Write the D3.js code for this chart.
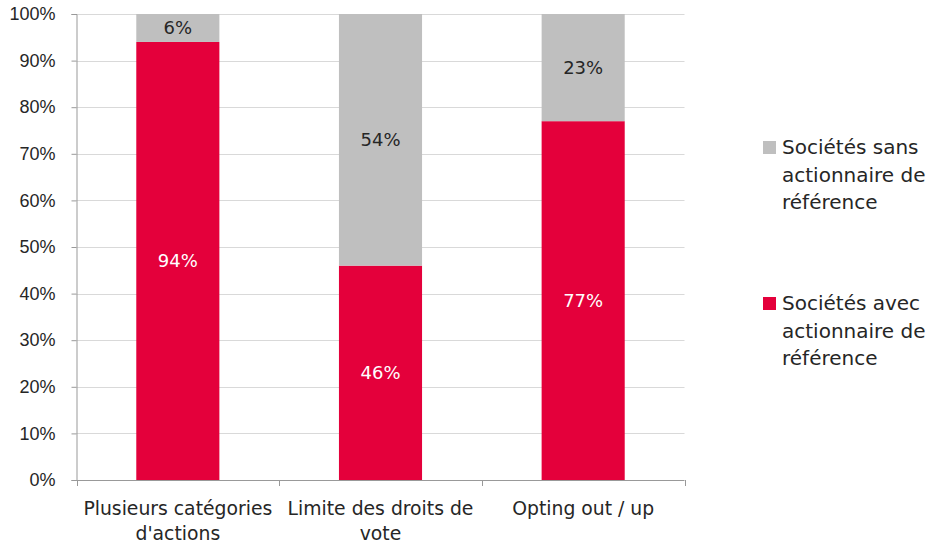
<!DOCTYPE html>
<html>
<head>
<meta charset="utf-8">
<script src="https://cdn.jsdelivr.net/npm/d3@7"></script>
<style>
  html, body { margin: 0; padding: 0; background: #fff; }
  svg { display: block; font-family: "DejaVu Sans", "Liberation Sans", Arial, sans-serif; font-weight: 400; }
</style>
</head>
<body>
<svg id="chart" width="931" height="546"></svg>
<script>
// Categories (each label split into lines)
const categories = [
  ["Plusieurs catégories", "d'actions"],
  ["Limite des droits de", "vote"],
  ["Opting out / up"]
];
// Share of companies with a reference shareholder (%)
const avecValues = [94, 46, 77];
// Share of companies without a reference shareholder (%)
const sansValues = [6, 54, 23];
const yTicks = [0, 10, 20, 30, 40, 50, 60, 70, 80, 90, 100];
const seriesNames = [
  ["Sociétés sans", "actionnaire de", "référence"],
  ["Sociétés avec", "actionnaire de", "référence"]
];

const colRed = "#E4003B";
const colGray = "#BFBFBF";
const textCol = "#262626";

const svg = d3.select("#chart");
const plotLeft = 76.5, plotRight = 684.5, plotTop = 14, plotBottom = 480;

const x = d3.scaleBand().domain(d3.range(categories.length)).range([plotLeft, plotRight]).paddingInner(0.59).paddingOuter(0.295);
const y = d3.scaleLinear().domain([0, 100]).range([plotBottom, plotTop]);

// Grid lines
svg.append("g").selectAll("line").data(yTicks.filter(d => d > 0)).join("line")
  .attr("x1", plotLeft).attr("x2", plotRight)
  .attr("y1", d => Math.round(y(d)) + 0.5).attr("y2", d => Math.round(y(d)) + 0.5)
  .attr("stroke", "#D9D9D9").attr("stroke-width", 1);

// Stacked bars
const rows = categories.map((c, i) => ({ i, avec: avecValues[i], sans: sansValues[i] }));
const g = svg.append("g");
g.selectAll("rect.avec").data(rows).join("rect")
  .attr("x", d => x(d.i)).attr("width", x.bandwidth())
  .attr("y", d => y(d.avec)).attr("height", d => y(0) - y(d.avec))
  .attr("fill", colRed);
g.selectAll("rect.sans").data(rows).join("rect")
  .attr("x", d => x(d.i)).attr("width", x.bandwidth())
  .attr("y", d => y(d.avec + d.sans)).attr("height", d => y(d.avec) - y(d.avec + d.sans))
  .attr("fill", colGray);

// Value labels
g.selectAll("text.avec").data(rows).join("text")
  .attr("x", d => x(d.i) + x.bandwidth() / 2).attr("y", d => y(d.avec / 2))
  .attr("dy", "0.35em").attr("text-anchor", "middle")
  .attr("font-size", 18).attr("fill", "#fff")
  .text(d => d.avec + "%");
g.selectAll("text.sans").data(rows).join("text")
  .attr("x", d => x(d.i) + x.bandwidth() / 2).attr("y", d => y(d.avec + d.sans / 2))
  .attr("dy", "0.35em").attr("text-anchor", "middle")
  .attr("font-size", 18).attr("fill", textCol)
  .text(d => d.sans + "%");

// Y axis
const yAxis = svg.append("g").attr("transform", `translate(${plotLeft},0)`)
  .call(d3.axisLeft(y).tickValues(yTicks).tickFormat(d => d + "%").tickSize(5).tickPadding(16));
yAxis.select(".domain").attr("stroke", "#999");
yAxis.selectAll(".tick line").attr("stroke", "#999");
yAxis.selectAll(".tick text").attr("font-size", 18).attr("fill", textCol).attr("font-family", null);

// X axis with boundary ticks
const xAxisG = svg.append("g");
xAxisG.append("line").attr("x1", plotLeft).attr("x2", plotRight).attr("y1", plotBottom + 0.5).attr("y2", plotBottom + 0.5).attr("stroke", "#999");
const bounds = d3.range(categories.length + 1).map(i => plotLeft + i * (plotRight - plotLeft) / categories.length);
xAxisG.selectAll("line.t").data(bounds).join("line")
  .attr("x1", d => Math.round(d) + 0.5).attr("x2", d => Math.round(d) + 0.5)
  .attr("y1", plotBottom).attr("y2", plotBottom + 6).attr("stroke", "#999");
xAxisG.selectAll("text").data(rows).join("text")
  .attr("x", d => x(d.i) + x.bandwidth() / 2).attr("y", 515)
  .attr("text-anchor", "middle").attr("font-size", 18.8).attr("fill", textCol)
  .selectAll("tspan").data(d => categories[d.i]).join("tspan")
  .attr("x", function() { return this.parentNode.getAttribute("x"); })
  .attr("dy", (d, k) => k === 0 ? 0 : 25)
  .text(d => d);

// Legend
const legend = svg.append("g");
const legendColors = [colGray, colRed];
const legendTop = [147, 303];
seriesNames.forEach((lines, k) => {
  legend.append("rect").attr("x", 763).attr("y", legendTop[k] - 6).attr("width", 13).attr("height", 13).attr("fill", legendColors[k]);
  const t = legend.append("text").attr("font-size", 20).attr("fill", textCol);
  lines.forEach((ln, j) => {
    t.append("tspan").attr("x", 782).attr("y", legendTop[k] + j * 27.5).attr("dy", "0.35em").text(ln);
  });
});
</script>
</body>
</html>
